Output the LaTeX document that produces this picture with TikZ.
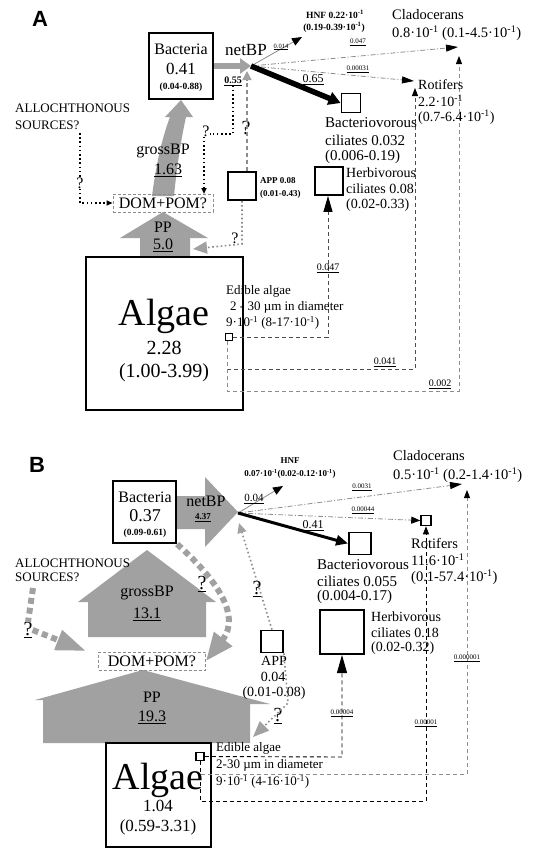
\documentclass[tikz,border=0pt]{standalone}
\usepackage{fontspec}
\setmainfont{Liberation Serif}
\newfontfamily\lsans{Liberation Sans}
\usetikzlibrary{arrows.meta,calc}
\newcommand\fsz[1]{\fontsize{#1}{#1}\selectfont}
\newcommand\mone{\textsuperscript{-1}}
\definecolor{arrgray}{gray}{0.63}
\definecolor{lingray}{gray}{0.55}
\definecolor{lindark}{gray}{0.3}
\begin{document}
\begin{tikzpicture}[x=1pt,y=-1pt,
  txt/.style={inner sep=0pt, font=\fsz{14}},
  lt/.style={inner sep=0pt, anchor=west},
  sqbox/.style={draw, line width=1.8pt, inner sep=0pt, fill=white},
  dline/.style={lindark, dash pattern=on 4pt off 3pt, line width=0.9pt},
  gline/.style={lingray, dash pattern=on 4pt off 3pt, line width=0.9pt},
  ddline/.style={lingray, dash pattern=on 5pt off 2pt on 1pt off 2pt, line width=0.8pt},
  dotl/.style={dash pattern=on 1.6pt off 2.6pt, line width=1.6pt},
  gdotl/.style={lingray, dash pattern=on 1.6pt off 2.6pt, line width=1.6pt},
  gthick/.style={arrgray, line width=6pt, dash pattern=on 6pt off 4pt},
  btip/.style={-{Triangle[length=8pt,width=6pt,color=black]}},
  small/.style={inner sep=0pt, font=\fsz{7}},
]
\useasboundingbox (0,0) rectangle (533,849);
% ================= PANEL A =================
% gray block arrows
\fill[arrgray] (152,196) .. controls (156,165) and (162,138) .. (170,117) -- (165,117) -- (181,100) -- (193,117) -- (186,117) .. controls (181,140) and (177,165) .. (174,196) -- cycle;
\fill[arrgray] (140,257) -- (140,238) -- (120,238) -- (163,212) -- (208,238) -- (190,238) -- (190,257) -- cycle;
% boxes
\node[sqbox, line width=2.2pt, minimum width=64pt, minimum height=66pt] (bacA) at (181,66) {};
\node[draw=lingray, dash pattern=on 3pt off 2pt, line width=0.9pt, inner sep=0pt, minimum width=100pt, minimum height=18pt, font=\fsz{16}] (domA) at (163,203) {DOM+POM?};
\node[sqbox, minimum size=28pt] (appA) at (242,186) {};
\node[sqbox, minimum size=28pt] (herbA) at (329,181) {};
\node[sqbox, minimum size=19pt] (bvA) at (351,103) {};
\node[draw, line width=2.5pt, minimum width=157pt, minimum height=153pt, inner sep=0pt] (algA) at (164.5,333.5) {};
\node[sqbox, line width=1.5pt, minimum size=7pt] (edA) at (229,337) {};
% coordinates
\coordinate (hubA) at (251,66);
\coordinate (hubA2) at (247,71);
\coordinate (hnfAin) at (302,37);
\coordinate (claAin) at (458,47);
\coordinate (rotAin) at (414,81);
\coordinate (cA1) at (328,337);
\coordinate (cA2) at (227,369);
\coordinate (cA3) at (415,369);
\coordinate (rotAup) at (415,88);
\coordinate (cA4) at (227,391);
\coordinate (cA5) at (459,391);
\coordinate (claAup) at (459,56);
\coordinate (dA1) at (233,134);
\coordinate (dA2) at (204,194);
\coordinate (alA) at (80,133);
\coordinate (alA2) at (80,203);
\coordinate (cA6) at (242,244);
\coordinate (ppAin) at (193,249);
% texts
\node[inner sep=0pt, font=\lsans\bfseries\fsz{22}] (labA) at (40,19) {A};
\node[txt, font=\fsz{16}] (bacA1) at (181,49) {Bacteria};
\node[txt, font=\fsz{17}] (bacA2) at (181,69) {0.41};
\node[txt, font=\bfseries\fsz{9.5}] (bacA3) at (181,87) {(0.04-0.88)};
\node[txt, font=\fsz{17}] (netA) at (246,50) {netBP};
\node[txt, font=\bfseries\fsz{10}] (l055) at (233,81) {\underline{0.55}};
\node[txt, font=\fsz{16}] (qA1) at (206,131) {?};
\node[txt, font=\fsz{20}] (qA2) at (246,128) {?};
\node[txt, font=\fsz{16}] (qA3) at (80,183) {?};
\node[txt, font=\fsz{16}] (qA4) at (235,238) {?};
% connectors A
\draw[arrgray, line width=6pt, -{Triangle[length=11pt,width=15pt]}] (bacA.east) -- (hubA);
\draw[dotl] (l055.south) -- (dA1) -- (qA1.east |- dA1);
\draw[dotl, -{Triangle[length=6pt,width=5pt]}] (qA1.south -| dA2) -- (dA2);
\draw[gline, line width=1.2pt, -{Triangle[length=9pt,width=9pt,color=arrgray]}] (appA.north -| hubA2) -- (hubA2);
\draw[dotl] (alA) -- (qA3.north);
\draw[dotl, -{Triangle[length=6pt,width=5pt]}] (qA3.south) -- (alA2) -- (domA.west);
\draw[gdotl, -{Triangle[length=14pt,width=12pt,color=arrgray]}] (appA.south) -- (cA6) -- (ppAin);
\draw[lingray, line width=0.8pt, -{Triangle[length=10pt,width=8pt,color=black]}] (hubA) -- (hnfAin);
\draw[ddline, -{Triangle[length=12pt,width=7pt,color=black]}] (hubA) -- (claAin);
\draw[ddline, -{Triangle[length=12pt,width=7pt,color=black]}] (hubA) -- (rotAin);
\draw[line width=5.5pt, -{Triangle[length=12pt,width=13pt]}] (hubA) -- (bvA.west);
\draw[dline, -{Triangle[length=16pt,width=9pt,color=black]}] (edA.east) -- (cA1) -- (cA1 |- herbA.south);
\draw[dline, btip] (edA.south -| cA2) -- (cA2) -- (cA3) -- (rotAup);
\draw[gline, btip] (edA.south -| cA4) -- (cA4) -- (cA5) -- (claAup);
% labels A
\node[small, font=\fsz{6.5}] (lA014) at (281,47) {\underline{0.014}};
\node[small] (lA047) at (358,42) {\underline{0.047}};
\node[small] (lA031) at (358,69) {\underline{0.00031}};
\node[txt, font=\fsz{12}] (lA065) at (313,80) {\underline{0.65}};
\node[txt, font=\fsz{10}] (lA047b) at (328,268) {\underline{0.047}};
\node[txt, font=\fsz{10}] (lA041) at (385,362) {\underline{0.041}};
\node[txt, font=\fsz{10}] (lA002) at (440,384) {\underline{0.002}};
\node[txt, font=\bfseries\fsz{9.5}] (hnfA1) at (335,14) {HNF 0.22·10\mone};
\node[txt, font=\bfseries\fsz{9.5}] (hnfA2) at (334,27) {(0.19-0.39·10\mone)};
\node[lt, font=\fsz{14.5}] (claA1) at (392,15) {Cladocerans};
\node[lt, font=\fsz{14.5}] (claA2) at (392,33) {0.8·10\mone{} (0.1-4.5·10\mone)};
\node[lt, font=\fsz{14}] (rotA1) at (418,85) {Rotifers};
\node[lt, font=\fsz{14}] (rotA2) at (418,101) {2.2·10\mone};
\node[lt, font=\fsz{14}] (rotA3) at (418,117) {(0.7-6.4·10\mone)};
\node[lt, font=\fsz{15}] (bvA1) at (325,123) {Bacteriovorous};
\node[lt, font=\fsz{15}] (bvA2) at (325,140) {ciliates 0.032};
\node[lt, font=\fsz{15}] (bvA3) at (325,157) {(0.006-0.19)};
\node[lt, font=\bfseries\fsz{9}] (appA1) at (260,181) {APP 0.08};
\node[lt, font=\bfseries\fsz{9}] (appA2) at (260,194) {(0.01-0.43)};
\node[lt, font=\fsz{14}] (herbA1) at (346,173) {Herbivorous};
\node[lt, font=\fsz{14}] (herbA2) at (346,189) {ciliates 0.08};
\node[lt, font=\fsz{14}] (herbA3) at (346,205) {(0.02-0.33)};
\node[lt, font=\fsz{13}] (alA1) at (15,108) {ALLOCHTHONOUS};
\node[lt, font=\fsz{13}] (alA3) at (15,125) {SOURCES?};
\node[txt, font=\fsz{16}] (grA1) at (163,151) {grossBP};
\node[txt, font=\fsz{16}] (grA2) at (168,170) {\underline{1.63}};
\node[txt, font=\fsz{16}] (ppA1) at (163,227) {PP};
\node[txt, font=\fsz{16}] (ppA2) at (163,245) {\underline{5.0}};
\node[txt, font=\fsz{38}] (algA1) at (164,316) {Algae};
\node[txt, font=\fsz{20}] (algA2) at (164,348) {2.28};
\node[txt, font=\fsz{20}] (algA3) at (164,373) {(1.00-3.99)};
\node[lt, font=\fsz{13}] (edA1) at (226,291) {Edible algae};
\node[lt, font=\fsz{13}] (edA2) at (230,307) {2 - 30 µm in diameter};
\node[lt, font=\fsz{13}] (edA3) at (226,323) {9·10\mone{} (8-17·10\mone)};
% ================= PANEL B =================
\fill[arrgray] (176,496) -- (205,496) -- (205,477) -- (238,512) -- (205,547) -- (205,529) -- (176,529) -- cycle;
\fill[arrgray] (88,637) -- (88,602) -- (78,602) -- (147,550) -- (216,602) -- (206,602) -- (206,637) -- cycle;
\fill[arrgray] (43,743) -- (43,700) -- (35,700) -- (143,670) -- (270,704) -- (250,704) -- (250,743) -- cycle;
\coordinate (hubB) at (238,513);
\coordinate (hubB2) at (239,523);
\coordinate (hnfBin) at (283,486);
\coordinate (claBin) at (462,484);
\coordinate (cB1) at (342,757);
\coordinate (cB2) at (200,774);
\coordinate (cB3) at (467,774);
\coordinate (claBup) at (467,490);
\coordinate (cB4) at (200,801);
\coordinate (cB5) at (426,801);
\coordinate (alB) at (33,588);
\coordinate (alBin) at (86,651);
\coordinate (cB6) at (288,703);
\coordinate (ppBin) at (253,737);
\node[sqbox, line width=2.2pt, minimum width=63pt, minimum height=62pt] (bacB) at (144.5,512) {};
\node[draw=lingray, dash pattern=on 3pt off 2pt, line width=0.9pt, inner sep=0pt, minimum width=107pt, minimum height=18pt, font=\fsz{16}] (domB) at (152,661) {DOM+POM?};
\node[sqbox, line width=1.5pt, minimum size=10pt] (rotB) at (426,520.5) {};
\node[sqbox, minimum size=22pt] (bvB) at (360,543.5) {};
\node[sqbox, line width=2pt, minimum size=44pt] (herbB) at (342,632) {};
\node[sqbox, minimum size=22pt] (appB) at (272,641.5) {};
\node[draw, line width=2.5pt, fill=white, minimum width=105pt, minimum height=104pt, inner sep=0pt] (algB) at (158.5,795) {};
\node[sqbox, line width=1.5pt, minimum size=8pt] (edB) at (200,756.5) {};
\node[inner sep=0pt, font=\lsans\bfseries\fsz{22}] (labB) at (37,465) {B};
\node[txt, font=\fsz{20}] (qB1) at (28,630) {\underline{?}};
\node[txt, font=\fsz{20}] (qB2) at (202,584) {\underline{?}};
\node[txt, font=\fsz{20}] (qB3) at (278,716) {\underline{?}};
\node[txt, font=\fsz{20}] (qB4) at (257,589) {\underline{?}};
% connectors B
\draw[gthick] (alB) -- (qB1.north);
\draw[gthick, -{Triangle[length=30pt,width=20pt]}] (qB1.east) -- (alBin);
\draw[gthick, -{Triangle[length=28pt,width=22pt]}] (bacB.south east) .. controls (215,578) and (242,615) .. (domB.east);
\draw[gdotl, -{Triangle[length=10pt,width=9pt,color=arrgray]}] (appB.north) -- (hubB2);
\draw[gdotl, -{Triangle[length=16pt,width=13pt,color=arrgray]}] (appB.south east) -- (cB6) -- (ppBin);
\draw[lingray, line width=0.8pt, -{Triangle[length=10pt,width=8pt,color=black]}] (hubB) -- (hnfBin);
\draw[ddline, -{Triangle[length=12pt,width=7pt,color=black]}] (hubB) -- (claBin);
\draw[ddline, -{Triangle[length=9pt,width=7pt,color=black]}] (hubB) -- (rotB.west);
\draw[line width=3pt, -{Triangle[length=12pt,width=10pt]}] (hubB) -- (bvB.west);
\draw[dline, black, -{Triangle[length=18pt,width=10pt,color=black]}] (edB.east) -- (cB1) -- (cB1 |- herbB.south);
\draw[gline, btip] (edB.south) -- (cB2) -- (cB3) -- (claBup);
\draw[dline, black, -{Triangle[length=8pt,width=6pt,color=black]}] (edB.south) -- (cB4) -- (cB5) -- (rotB.south);
% texts B
\node[txt, font=\fsz{16}] (bacB1) at (145,497) {Bacteria};
\node[txt, font=\fsz{18}] (bacB2) at (145,516) {0.37};
\node[txt, font=\bfseries\fsz{9.5}] (bacB3) at (145,533) {(0.09-0.61)};
\node[txt, font=\fsz{16}] (netB1) at (206,501) {netBP};
\node[txt, font=\bfseries\fsz{9}] (netB2) at (203,518) {\underline{4.37}};
\node[txt, font=\bfseries\fsz{9}] (hnfB1) at (290,461) {HNF};
\node[txt, font=\bfseries\fsz{9}] (hnfB2) at (290,474) {0.07·10\mone(0.02-0.12·10\mone)};
\node[txt, font=\fsz{11}] (lB04) at (254,499) {\underline{0.04}};
\node[small] (lB0031) at (362,487) {\underline{0.0031}};
\node[small] (lB00044) at (363,510) {\underline{0.00044}};
\node[txt, font=\fsz{12}] (lB041) at (313,526) {\underline{0.41}};
\node[small] (lB4) at (342,713) {\underline{0.00004}};
\node[small] (lB5) at (467,658) {\underline{0.000001}};
\node[small] (lB6) at (426,723) {\underline{0.00001}};
\node[lt, font=\fsz{14.5}] (claB1) at (393,456) {Cladocerans};
\node[lt, font=\fsz{14.5}] (claB2) at (393,475) {0.5·10\mone{} (0.2-1.4·10\mone)};
\node[lt, font=\fsz{14.5}] (rotB1) at (411,543) {Rotifers};
\node[lt, font=\fsz{14.5}] (rotB2) at (411,560) {11.6·10\mone};
\node[lt, font=\fsz{14.5}] (rotB3) at (411,577) {(0.1-57.4·10\mone)};
\node[lt, font=\fsz{15}] (bvB1) at (317,565) {Bacteriovorous};
\node[lt, font=\fsz{15}] (bvB2) at (317,581) {ciliates 0.055};
\node[lt, font=\fsz{15}] (bvB3) at (317,597) {(0.004-0.17)};
\node[lt, font=\fsz{14}] (herbB1) at (371,617) {Herbivorous};
\node[lt, font=\fsz{14}] (herbB2) at (371,633) {ciliates 0.18};
\node[lt, font=\fsz{14}] (herbB3) at (371,648) {(0.02-0.32)};
\node[txt, font=\fsz{14}] (appB1) at (274,661) {APP};
\node[txt, font=\fsz{14}] (appB2) at (273,677) {0.04};
\node[txt, font=\fsz{14}] (appB3) at (274,693) {(0.01-0.08)};
\node[lt, font=\fsz{13}] (alB1) at (15,563) {ALLOCHTHONOUS};
\node[lt, font=\fsz{13}] (alB2) at (15,577) {SOURCES?};
\node[txt, font=\fsz{16}] (grB1) at (147,593) {grossBP};
\node[txt, font=\fsz{16}] (grB2) at (147,614) {\underline{13.1}};
\node[txt, font=\fsz{16}] (ppB1) at (152,697) {PP};
\node[txt, font=\fsz{16}] (ppB2) at (152,717) {\underline{19.3}};
\node[txt, font=\fsz{38}] (algB1) at (158,780) {Algae};
\node[txt, font=\fsz{17}] (algB2) at (158,806) {1.04};
\node[txt, font=\fsz{17}] (algB3) at (158,827) {(0.59-3.31)};
\node[lt, font=\fsz{13}] (edB1) at (216,748) {Edible algae};
\node[lt, font=\fsz{13}] (edB2) at (216,765) {2-30 µm in diameter};
\node[lt, font=\fsz{13}] (edB3) at (216,782) {9·10\mone{} (4-16·10\mone)};
\end{tikzpicture}
\end{document}
